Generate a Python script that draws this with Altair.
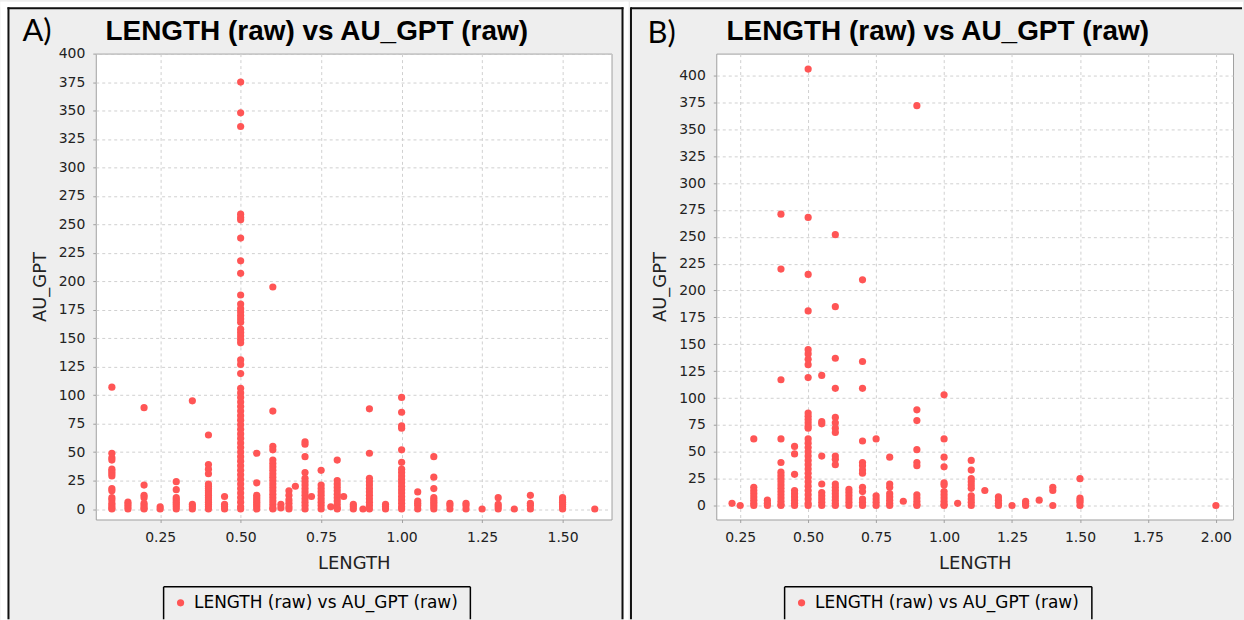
import altair as alt
import pandas as pd

TITLE = "LENGTH (raw) vs AU_GPT (raw)"
SERIES = "LENGTH (raw) vs AU_GPT (raw)"
PANEL_LABELS = ["A)", "B)"]

# ---- Panel A: LENGTH values and the AU_GPT values observed at each ----
A_LENGTH = [0.10, 0.15, 0.20, 0.25, 0.30, 0.35, 0.40, 0.45, 0.50, 0.55,
            0.60, 0.625, 0.65, 0.67, 0.70, 0.72, 0.75, 0.78, 0.80, 0.82,
            0.85, 0.88, 0.90, 0.95, 1.00, 1.05, 1.10, 1.15, 1.20, 1.25,
            1.30, 1.35, 1.40, 1.50, 1.60]
A_AU_GPT = [
    [107, 49, 45, 43, 35, 33, 31, 29, 18, 16, 10, 8, 5, 3, 1, 0],
    [6, 4, 2, 0],
    [89, 21, 12, 10, 5, 3, 1, 0],
    [2, 0],
    [24, 17, 10, 8, 6, 4, 2, 0],
    [95, 4, 2, 0],
    [65, 39, 35, 31, 22, 20, 18, 16, 14, 12, 10, 8, 6, 4, 2, 0],
    [11, 4, 2, 0],
    [375, 348, 336, 259, 256, 254, 238, 218, 207, 188, 180, 176, 173, 170,
     167, 164, 158, 155, 152, 149, 146, 131, 127, 119, 106, 102, 98, 94, 90,
     86, 82, 78, 74, 70, 66, 62, 58, 54, 50, 46, 42, 38, 34, 30, 26, 22, 18,
     14, 10, 6, 2, 0],
    [49, 23, 12, 10, 8, 6, 4, 2, 0],
    [195, 86, 55, 52, 43, 40, 37, 34, 31, 28, 25, 22, 19, 16, 13, 10, 7, 4, 1, 0],
    [4, 1],
    [16, 12, 8, 5, 2, 0],
    [20],
    [59, 57, 46, 32, 27, 24, 21, 18, 15, 12, 9, 6, 3, 0],
    [11],
    [34, 21, 18, 15, 12, 9, 6, 3, 0],
    [2],
    [43, 25, 22, 19, 16, 13, 10, 7, 4, 1, 0],
    [11],
    [4, 2, 0],
    [0],
    [88, 49, 27, 24, 21, 18, 15, 12, 9, 6, 3, 0],
    [4, 2, 0],
    [98, 85, 73, 71, 52, 41, 35, 32, 29, 26, 23, 20, 17, 14, 11, 8, 5, 2, 0],
    [15, 7, 5, 3, 0],
    [46, 28, 18, 10, 8, 6, 4, 2, 0],
    [5, 3, 0],
    [5, 3, 0],
    [0],
    [10, 4, 2, 0],
    [0],
    [12, 5, 3, 0],
    [10, 8, 6, 4, 2, 0],
    [0],
]

# ---- Panel B ----
B_LENGTH = [0.22, 0.25, 0.30, 0.35, 0.40, 0.45, 0.50, 0.55, 0.60, 0.65,
            0.70, 0.75, 0.80, 0.85, 0.90, 1.00, 1.05, 1.10, 1.15, 1.20,
            1.25, 1.30, 1.35, 1.40, 1.50, 2.00]
B_AU_GPT = [
    [2],
    [0],
    [62, 17, 14, 11, 8, 5, 2, 0],
    [5, 2, 0],
    [271, 220, 117, 62, 40, 31, 28, 25, 22, 19, 16, 13, 10, 7, 4, 1, 0],
    [55, 48, 29, 14, 11, 8, 5, 2, 0],
    [406, 268, 215, 181, 145, 141, 136, 131, 119, 86, 83, 80, 77, 74, 72,
     62, 58, 54, 50, 46, 42, 38, 34, 30, 26, 22, 18, 14, 10, 6, 2, 0],
    [121, 78, 76, 46, 20, 12, 9, 6, 3, 0],
    [252, 185, 137, 109, 82, 77, 72, 68, 46, 43, 38, 20, 17, 14, 11, 8, 5, 2, 0],
    [15, 12, 9, 6, 3, 0],
    [210, 134, 109, 60, 40, 37, 33, 30, 17, 13, 6, 3, 0],
    [62, 9, 6, 3, 0],
    [45, 20, 17, 11, 8, 5, 2, 0],
    [4],
    [372, 89, 79, 52, 40, 37, 10, 7, 4, 1, 0],
    [103, 62, 45, 36, 21, 19, 13, 10, 7, 4, 1, 0],
    [2],
    [42, 33, 25, 22, 19, 16, 9, 6, 3, 0],
    [14],
    [8, 5, 2, 0],
    [0],
    [4, 2, 0],
    [5],
    [17, 14, 0],
    [25, 7, 5, 3, 0],
    [0],
]

A_X_TICKS = [0.25, 0.50, 0.75, 1.00, 1.25, 1.50]
B_X_TICKS = [0.25, 0.50, 0.75, 1.00, 1.25, 1.50, 1.75, 2.00]
Y_TICKS = [0, 25, 50, 75, 100, 125, 150, 175, 200, 225, 250, 275, 300, 325,
           350, 375, 400]

A_X_DOMAIN = [0.05, 1.652]
A_Y_DOMAIN = [-9.2, 400]
B_X_DOMAIN = [0.162, 2.063]
B_Y_DOMAIN = [-13, 420.4]

RED = "#FF5555"
PANEL_BG = "#EEEEEE"
H = 467


def points_df(lengths, values):
    rows = []
    for x, ys in zip(lengths, values):
        for y in ys:
            rows.append({"LENGTH": x, "AU_GPT": y, "series": SERIES})
    return pd.DataFrame(rows)


ONE = pd.DataFrame({"k": [0]})


def strip(x1, x2, y1, y2):
    return alt.Chart(ONE).mark_rect(color="white", strokeWidth=0).encode(
        x=alt.value(x1), x2=alt.value(x2), y=alt.value(y1), y2=alt.value(y2))


def vrule(x, y1, y2, w=2, c="#111111"):
    return alt.Chart(ONE).mark_rule(color=c, strokeWidth=w).encode(
        x=alt.value(x), y=alt.value(y1), y2=alt.value(y2))


def hrule(y, x1, x2, w=2, c="#111111"):
    return alt.Chart(ONE).mark_rule(color=c, strokeWidth=w).encode(
        y=alt.value(y), x=alt.value(x1), x2=alt.value(x2))


def legend_frame(x1, x2, y1, y2):
    return [
        hrule(y1, x1, x2, 1.5, "black"),
        vrule(x1, y1, y2, 1.5, "black"),
        vrule(x2, y1, y2, 1.5, "black"),
    ]


def panel(idx, lengths, values, x_dom, y_dom, x_ticks, width, decor,
          title_x, label_x, label_y, legend_x):
    df = points_df(lengths, values)
    pts = alt.Chart(df).mark_circle(size=52, opacity=1).encode(
        x=alt.X("LENGTH:Q",
                scale=alt.Scale(domain=x_dom, nice=False, zero=False),
                axis=alt.Axis(values=x_ticks, format=".2f", title="LENGTH",
                              titleY=49, titleBaseline="alphabetic")),
        y=alt.Y("AU_GPT:Q",
                scale=alt.Scale(domain=y_dom, nice=False, zero=False),
                axis=alt.Axis(values=Y_TICKS, format="d", title="AU_GPT",
                              titleX=-50.5, titleBaseline="alphabetic")),
        color=alt.Color("series:N",
                        scale=alt.Scale(domain=[SERIES], range=[RED]),
                        legend=alt.Legend(title=None, orient="none",
                                          legendX=legend_x, legendY=534,
                                          symbolType="circle", symbolSize=52,
                                          symbolOffset=1, labelOffset=5,
                                          padding=8, labelLimit=500)),
    )
    title = alt.Chart(ONE).mark_text(
        font="Liberation Sans", fontSize=28, fontWeight="bold",
        align="center", baseline="alphabetic", color="black").encode(
        x=alt.value(title_x), y=alt.value(-14), text=alt.value(TITLE))
    lab = alt.Chart(ONE).mark_text(
        font="Lato", fontSize=31, align="left", baseline="alphabetic",
        color="black").encode(
        x=alt.value(label_x), y=alt.value(label_y),
        text=alt.value(PANEL_LABELS[idx]))
    return alt.layer(*decor, pts, title, lab).properties(width=width, height=H)


decor_a = [
    strip(-95.5, 534, -52, -46.5),
    strip(-95.5, -88.5, -52, 568),
    strip(529, 534, -52, 568),
    vrule(-87.5, -46.5, 567),
    vrule(528, -46.5, 567),
    hrule(-45.5, -88.5, 529),
] + legend_frame(68, 375.5, 534.5, 567)
decor_b = [
    strip(-86.5, 528, -52, -46.5),
    vrule(-85.5, -46.5, 567),
    hrule(-45.5, -85.5, 527),
] + legend_frame(68.5, 376.5, 534.5, 567)

chart_a = panel(0, A_LENGTH, A_AU_GPT, A_X_DOMAIN, A_Y_DOMAIN, A_X_TICKS, 517,
                decor_a, 221.5, -73.5, -12.7, 67.5)
chart_b = panel(1, B_LENGTH, B_AU_GPT, B_X_DOMAIN, B_Y_DOMAIN, B_X_TICKS, 518,
                decor_b, 222, -69, -10.5, 68)

chart = alt.hconcat(chart_a, chart_b, spacing=0).resolve_scale(
    color="independent").resolve_legend(color="independent").properties(
    padding=0, background=PANEL_BG
).configure_view(
    fill="white", stroke="#a0a0a0", strokeWidth=1
).configure_axis(
    labelFont="DejaVu Sans", labelFontSize=14, labelColor="#222222",
    titleFont="DejaVu Sans", titleFontSize=18, titleFontWeight="normal",
    titleColor="#222222", domain=False, tickColor="#a0a0a0", tickSize=3,
    labelPadding=8, labelFlush=False, gridColor="#d0d0d0", gridDash=[3, 3],
    gridWidth=1
).configure_legend(
    labelFont="DejaVu Sans", labelFontSize=17, labelColor="black"
)

chart.save("out.html", embed_options={"renderer": "svg", "actions": False})
